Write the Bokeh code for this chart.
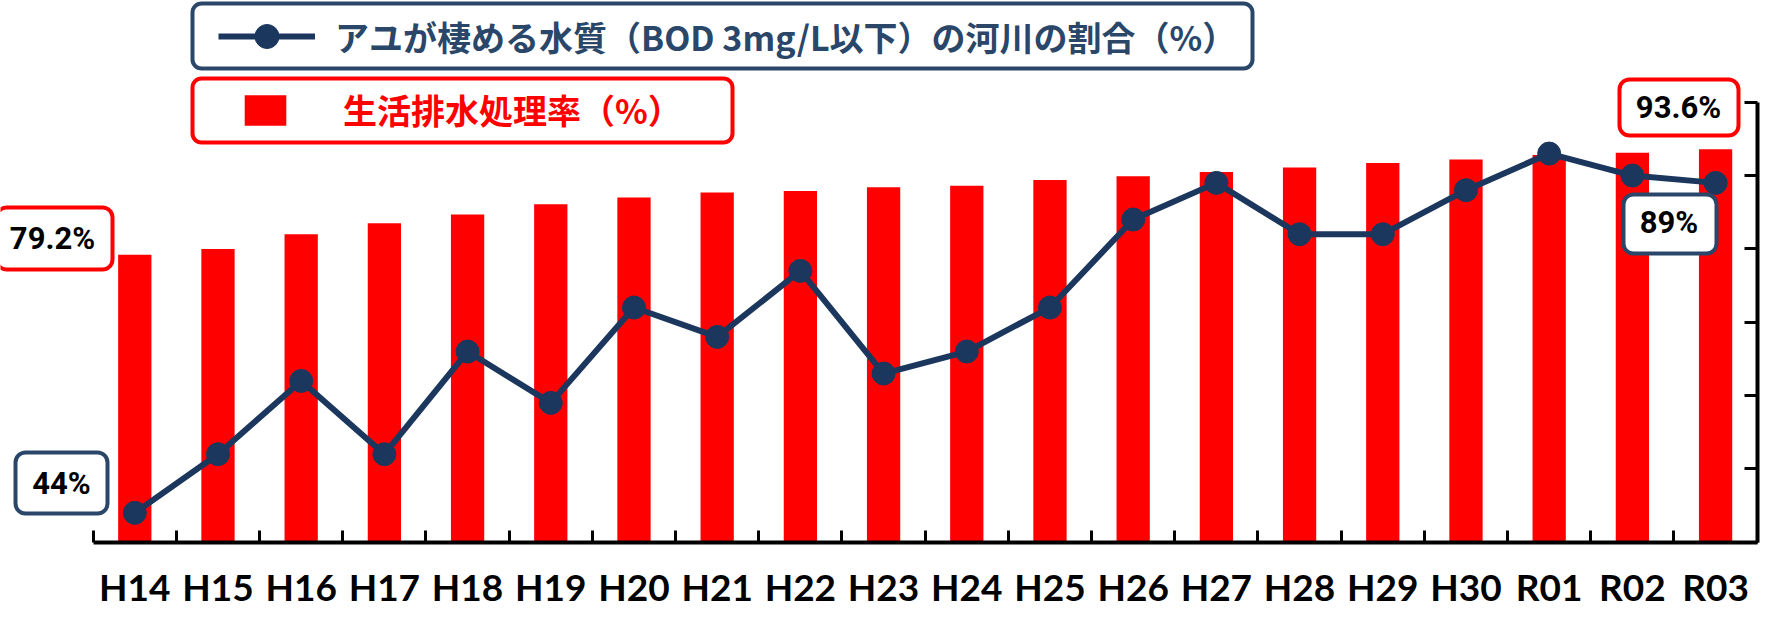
from bokeh.plotting import figure
from bokeh.models import (Range1d, FixedTicker, Legend, LegendItem,
                          BoxAnnotation, Label)
from bokeh.embed import file_html
from bokeh.resources import INLINE

# ---------------- data ----------------
categories = ["H14", "H15", "H16", "H17", "H18", "H19", "H20", "H21", "H22", "H23",
              "H24", "H25", "H26", "H27", "H28", "H29", "H30", "R01", "R02", "R03"]
treatment_rate = [79.2, 80.0, 82.0, 83.5, 84.7, 86.1, 87.0, 87.7, 87.9, 88.4,
                  88.6, 89.4, 89.9, 90.5, 91.1, 91.7, 92.2, 92.8, 93.1, 93.6]
ayu_river_share = [44, 52, 62, 52, 66, 59, 72, 68, 77, 63,
                   66, 72, 84, 89, 82, 82, 88, 93, 90, 89]
y_ticks = [40, 50, 60, 70, 80, 90, 100]

line_name = "アユが棲める水質（BOD 3mg/L以下）の河川の割合（%）"
bar_name = "生活排水処理率（%）"

# ---------------- styles ----------------
RED = "#ff0000"
NAVY = "#1c375e"
NAVY2 = "#2a4669"

W, H = 1766, 619
n = len(categories)
xs = list(range(1, n + 1))

# frame covers the whole canvas; axes are pinned inside it (fixed_location)
p = figure(width=W, height=H,
           x_range=Range1d(-0.614, n + 0.612), y_range=Range1d(29.46, 113.87),
           y_axis_location="right",
           output_backend="svg", toolbar_location=None,
           min_border=0, min_border_left=0, min_border_right=0,
           min_border_top=0, min_border_bottom=0,
           background_fill_color="white", border_fill_color="white")
p.outline_line_color = None
p.xgrid.visible = False
p.ygrid.visible = False

# right axis (no labels, inward ticks)
ya = p.yaxis[0]
ya.fixed_location = n + 0.5
ya.bounds = (y_ticks[0], y_ticks[-1])
ya.ticker = FixedTicker(ticks=y_ticks)
ya.major_label_overrides = {t: "" for t in y_ticks}
ya.major_label_standoff = 0
ya.major_tick_in = 13
ya.major_tick_out = 0
ya.minor_tick_in = 0
ya.minor_tick_out = 0
ya.major_tick_line_width = 3
ya.axis_line_width = 4
ya.axis_line_color = "black"
ya.major_tick_line_color = "black"

# bottom axis: labels at centres, inward ticks at category boundaries
xa = p.xaxis[0]
xa.fixed_location = y_ticks[0]
xa.bounds = (0.5, n + 0.5)
xa.ticker = FixedTicker(ticks=xs, minor_ticks=[i + 0.5 for i in range(0, n + 1)])
xa.major_label_overrides = {x: c for x, c in zip(xs, categories)}
xa.major_tick_in = 0
xa.major_tick_out = 0
xa.minor_tick_in = 12
xa.minor_tick_out = 0
xa.minor_tick_line_width = 3
xa.minor_tick_line_color = "black"
xa.axis_line_width = 4
xa.axis_line_color = "black"
xa.major_label_text_font = "Lato"
xa.major_label_text_font_size = "37px"
xa.major_label_text_font_style = "bold"
xa.major_label_text_color = "black"
xa.major_label_standoff = 22

# ---------------- glyphs ----------------
bars = p.vbar(x=xs, top=treatment_rate, bottom=y_ticks[0], width=0.4,
              fill_color=RED, line_color=None)
line_r = p.line(xs, ayu_river_share, line_width=6, line_color=NAVY)
scat_r = p.scatter(xs, ayu_river_share, size=23, fill_color=NAVY, line_color=NAVY)

# ---------------- boxes (screen units, origin = canvas bottom-left) ----------------
def box(l, r, t, b, color, radius=10):
    p.add_layout(BoxAnnotation(left=l, right=r, top=t, bottom=b,
                               left_units="screen", right_units="screen",
                               top_units="screen", bottom_units="screen",
                               fill_color="white", fill_alpha=1.0,
                               line_color=color, line_width=4, line_alpha=1.0,
                               border_radius=radius))

box(192, 1252, 616, 551, NAVY2, 9)      # legend 1 frame
box(192, 732, 541, 477, RED, 9)         # legend 2 frame
box(-4, 112, 412, 350, RED)             # 79.2%
box(15, 107, 167, 106, NAVY2)           # 44%
box(1619, 1738, 540, 484, RED)          # 93.6%
box(1623, 1716, 425, 366, NAVY2)        # 89%

def lab(x, y, t):
    p.add_layout(Label(x=x, y=y, x_units="screen", y_units="screen", text=t,
                       text_font="Roboto", text_font_size="31px",
                       text_font_style="bold", text_color="black",
                       text_align="center", text_baseline="middle"))

lab(52, 381, f"{treatment_rate[0]}%")
lab(61, 136.5, f"{ayu_river_share[0]}%")
lab(1678, 512, f"{treatment_rate[-1]}%")
lab(1668.5, 397, f"{ayu_river_share[-1]}%")

# ---------------- legends ----------------
common = dict(padding=0, margin=0, spacing=0,
              border_line_alpha=0, background_fill_alpha=0,
              label_text_font="Noto Sans CJK JP", label_text_font_size="34px",
              label_text_font_style="bold")
leg1 = Legend(items=[LegendItem(label=line_name, renderers=[line_r, scat_r])],
              location=(218, 553), glyph_width=97, glyph_height=60,
              label_standoff=20, label_text_color=NAVY2, **common)
leg2 = Legend(items=[LegendItem(label=bar_name, renderers=[bars])],
              location=(239, 485), glyph_width=52, glyph_height=38,
              label_standoff=52, label_text_color=RED, **common)
p.add_layout(leg1)
p.add_layout(leg2)

open("out.html", "w").write(file_html(p, INLINE))
